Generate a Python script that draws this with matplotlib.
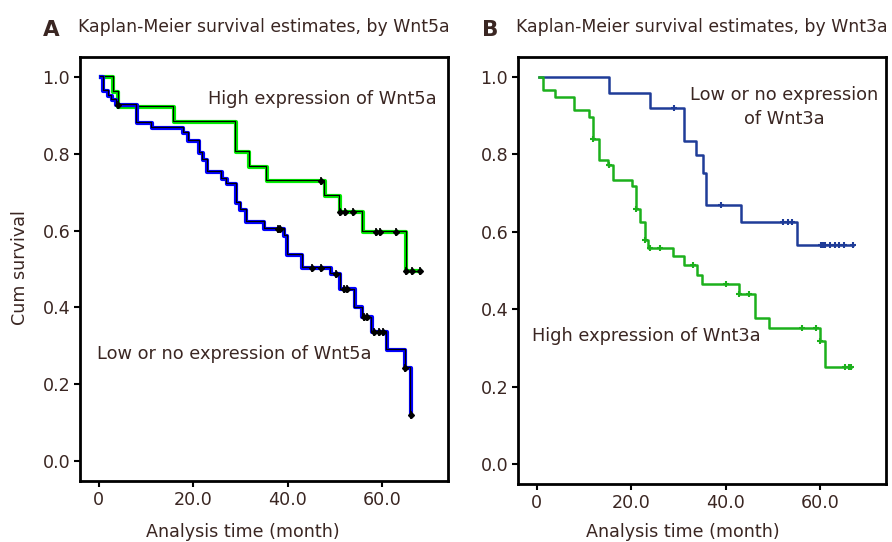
import numpy as np
import matplotlib
matplotlib.use('Agg')
import matplotlib.pyplot as plt
from matplotlib import transforms

# panel A: Wnt5a
hi_a_t = [3.0, 4.1, 15.9, 29.0, 31.9, 35.6, 47.9, 51.0, 55.9, 65.1]
hi_a_s = [0.962, 0.922, 0.883, 0.805, 0.767, 0.730, 0.691, 0.649, 0.597, 0.494]
hi_a_cens = [47.0, 51.1, 52.2, 53.8, 58.7, 59.6, 63.0, 65.1, 66.3, 68.1]

lo_a_t = [0.9, 2.0, 2.7, 3.7, 8.0, 11.2, 17.9, 18.9, 21.2, 22.0, 23.0, 26.0, 27.1, 29.1, 29.9,
          31.2, 35.0, 39.3, 39.9, 43.1, 49.1, 51.1, 54.2, 55.8, 57.8, 61.0, 64.9, 66.1]
lo_a_s = [0.965, 0.952, 0.940, 0.928, 0.881, 0.868, 0.855, 0.834, 0.803, 0.784, 0.753, 0.734, 0.721, 0.673, 0.654,
          0.623, 0.605, 0.587, 0.538, 0.504, 0.487, 0.447, 0.400, 0.374, 0.337, 0.289, 0.242, 0.120]
lo_a_cens = [4.1, 37.9, 38.4, 45.1, 47.1, 50.3, 52.0, 52.6, 56.1, 56.9, 58.4, 59.4, 60.3, 64.9, 66.1]

# panel B: Wnt3a
lo_b_t = [15.2, 24.0, 31.1, 33.7, 35.2, 35.9, 43.2, 55.1]
lo_b_s = [0.959, 0.921, 0.835, 0.798, 0.753, 0.668, 0.625, 0.567]
lo_b_cens = [29.1, 39.1, 52.1, 53.2, 54.0, 60.2, 60.6, 61.1, 62.1, 63.1, 64.0, 65.1, 67.1]

hi_b_t = [1.2, 3.9, 7.8, 11.1, 12.0, 13.1, 15.0, 16.1, 20.1, 21.0, 21.9, 22.9, 23.6, 28.9, 31.1,
          33.9, 35.0, 42.9, 46.2, 49.1, 60.0, 61.0]
hi_b_s = [0.967, 0.948, 0.914, 0.896, 0.840, 0.785, 0.772, 0.733, 0.719, 0.660, 0.625, 0.580, 0.558, 0.537, 0.514,
          0.488, 0.465, 0.439, 0.376, 0.350, 0.317, 0.250]
hi_b_cens = [12.0, 15.2, 21.0, 22.9, 23.9, 26.1, 33.0, 40.1, 42.9, 45.0, 56.1, 59.2, 60.1, 65.2, 66.2, 66.6]

t_start = 0.4
xticks = [0, 20, 40, 60]
xticklabels = ['0', '20.0', '40.0', '60.0']
yticks = [0.0, 0.2, 0.4, 0.6, 0.8, 1.0]

txt = '#3a2622'
fs = 12.6
plt.rcParams['font.family'] = 'DejaVu Sans'


def km_arrays(t, s, cens):
    tt = np.r_[t_start, t, max(cens[-1], t[-1])]
    ss = np.r_[1.0, s, s[-1]]
    idx = np.searchsorted(tt, cens, side='right') - 1
    return tt, ss, np.array(cens), ss[idx]


def setup(ax):
    ax.set_xlim(-4, 74)
    ax.set_ylim(-0.052, 1.052)
    ax.set_xticks(xticks)
    ax.set_xticklabels(xticklabels)
    ax.set_yticks(yticks)
    ax.set_yticklabels(['%.1f' % v for v in yticks])
    ax.tick_params(labelsize=fs, colors='black', labelcolor=txt, length=4, width=1.5, pad=3)
    for sp in ax.spines.values():
        sp.set_linewidth(2.0)
        sp.set_color('black')


fig = plt.figure(figsize=(8.92, 5.42), dpi=100)
ax1 = fig.add_axes([0.0897, 0.1125, 0.4126, 0.782])
ax2 = fig.add_axes([0.5807, 0.107, 0.4126, 0.788])

# A: coloured line with thin black line drawn on top
shadow = transforms.offset_copy(ax1.transData, fig=fig, x=-0.3, y=0.6, units='points')
for t, s, c, col in [(hi_a_t, hi_a_s, hi_a_cens, '#00ee00'), (lo_a_t, lo_a_s, lo_a_cens, '#0000ff')]:
    tt, ss, ct, cs = km_arrays(t, s, c)
    ax1.step(tt, ss, where='post', color=col, lw=3.0)
    ax1.step(tt, ss, where='post', color='black', lw=0.9, transform=shadow)
    ax1.plot(ct, cs, ls='none', marker='D', ms=3, color='black')
    ax1.plot(ct, cs, ls='none', marker='|', ms=6, mew=1.2, color='black')
setup(ax1)
ax1.text(23.1, 0.943, 'High expression of Wnt5a', fontsize=12.8, color=txt, va='center', ha='left')
ax1.text(-0.5, 0.280, 'Low or no expression of Wnt5a', fontsize=12.8, color=txt, va='center', ha='left')

# B
for t, s, c, col in [(lo_b_t, lo_b_s, lo_b_cens, '#1f3c98'), (hi_b_t, hi_b_s, hi_b_cens, '#1cb01c')]:
    tt, ss, ct, cs = km_arrays(t, s, c)
    ax2.step(tt, ss, where='post', color=col, lw=1.8)
    ax2.plot(ct, cs, ls='none', marker='+', ms=5, mew=1.5, color=col)
setup(ax2)
ax2.text(52.4, 0.922, 'Low or no expression\nof Wnt3a', fontsize=12.8, color=txt, va='center', ha='center',
         linespacing=1.4)
ax2.text(-1.1, 0.330, 'High expression of Wnt3a', fontsize=12.8, color=txt, va='center', ha='left')

# titles and labels
fig.text(43 / 892, 1 - 36 / 542, 'A', fontsize=15.5, fontweight='bold', color=txt, va='baseline')
fig.text(78 / 892, 1 - 32 / 542, 'Kaplan-Meier survival estimates, by Wnt5a', fontsize=12.4, color=txt, va='baseline')
fig.text(482 / 892, 1 - 36 / 542, 'B', fontsize=15.5, fontweight='bold', color=txt, va='baseline')
fig.text(516 / 892, 1 - 32 / 542, 'Kaplan-Meier survival estimates, by Wnt3a', fontsize=12.4, color=txt, va='baseline')
fig.text(20 / 892, 1 - 268 / 542, 'Cum survival', fontsize=fs, color=txt, rotation=90, va='center', ha='center')
fig.text(242.5 / 892, 1 - 537 / 542, 'Analysis time (month)', fontsize=fs, color=txt, ha='center', va='baseline')
fig.text(683.3 / 892, 1 - 537 / 542, 'Analysis time (month)', fontsize=fs, color=txt, ha='center', va='baseline')

fig.savefig('out.png', dpi=100)
